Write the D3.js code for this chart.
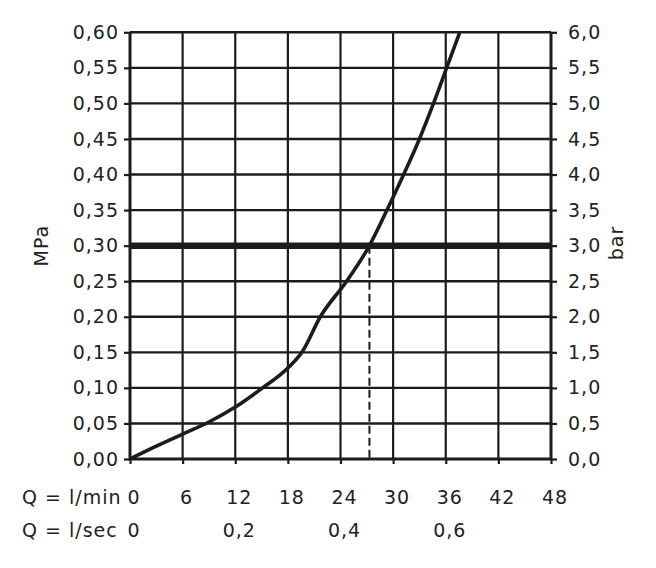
<!DOCTYPE html>
<html>
<head>
<meta charset="utf-8">
<script src="https://cdn.jsdelivr.net/npm/d3@7"></script>
<style>
  body { margin: 0; background: #fff; }
  text { font-family: "DejaVu Sans", sans-serif; fill: #222; letter-spacing: 1px; }
</style>
</head>
<body>
<svg id="chart" width="656" height="568"></svg>
<script>
// flow (l/min) vs pressure (MPa)
var flowLpm = [0, 3, 6, 9, 12, 15, 18, 19.6, 21.7, 24.7, 27.3, 29.3, 31.2, 33.0, 34.6, 36.1, 37.6];
var pressureMPa = [0, 0.018, 0.035, 0.052, 0.073, 0.099, 0.128, 0.15, 0.20, 0.25, 0.30, 0.35, 0.40, 0.45, 0.50, 0.55, 0.60];

var mpaTicks = [0, 0.05, 0.10, 0.15, 0.20, 0.25, 0.30, 0.35, 0.40, 0.45, 0.50, 0.55, 0.60];
var barTicks = [0, 0.5, 1, 1.5, 2, 2.5, 3, 3.5, 4, 4.5, 5, 5.5, 6];
var lpmTicks = [0, 6, 12, 18, 24, 30, 36, 42, 48];
var lpsTicks = [0, 0.2, 0.4, 0.6];

var workingPressure = 0.30;
var workingFlow = 27.3;

(function flowChart() {
    var svg = d3.select("#chart");
    var ink = "#1c1c1c";

    var x = d3.scaleLinear().domain([0, 48]).range([130, 551]);
    var y = d3.scaleLinear().domain([0, 0.6]).range([459, 32.3]);
    var yBar = d3.scaleLinear().domain([0, 6]).range([459, 32.3]);

    var comma = function (fmt) {
        return function (d) { return d3.format(fmt)(d).replace(".", ","); };
    };

    // grid
    var grid = svg.append("g").attr("stroke", ink);
    grid.selectAll(".gx").data(lpmTicks).enter().append("line")
        .attr("x1", function (d) { return x(d); })
        .attr("x2", function (d) { return x(d); })
        .attr("y1", y(0)).attr("y2", y(0.6))
        .attr("stroke-width", function (d) { return (d === 0 || d === 48) ? 3 : 2.2; });
    grid.selectAll(".gy").data(mpaTicks).enter().append("line")
        .attr("x1", x(0)).attr("x2", x(48))
        .attr("y1", function (d) { return y(d); })
        .attr("y2", function (d) { return y(d); })
        .attr("stroke-width", function (d) { return d === 0 ? 3 : 2.4; });

    // axes
    var left = svg.append("g")
        .attr("transform", "translate(" + x(0) + ",0)")
        .call(d3.axisLeft(y).tickValues(mpaTicks).tickSize(6).tickPadding(5).tickFormat(comma(".2f")));
    var right = svg.append("g")
        .attr("transform", "translate(" + x(48) + ",0)")
        .call(d3.axisRight(yBar).tickValues(barTicks).tickSize(6).tickPadding(11).tickFormat(comma(".1f")));
    var bottom = svg.append("g")
        .attr("transform", "translate(0," + y(0) + ")")
        .call(d3.axisBottom(x).tickValues(lpmTicks).tickSize(5).tickFormat(""));

    [left, right, bottom].forEach(function (a) {
        a.select(".domain").remove();
        a.selectAll(".tick line").attr("stroke", ink).attr("stroke-width", 2.2);
        a.selectAll(".tick text").style("font-size", "19px").attr("fill", "#222")
            .style("font-family", "'DejaVu Sans', sans-serif");
    });

    // working pressure line
    svg.append("line")
        .attr("x1", x(0)).attr("x2", x(48))
        .attr("y1", y(workingPressure)).attr("y2", y(workingPressure))
        .attr("stroke", ink).attr("stroke-width", 6.5);

    svg.append("line")
        .attr("x1", x(workingFlow)).attr("x2", x(workingFlow))
        .attr("y1", y(workingPressure)).attr("y2", y(0))
        .attr("stroke", ink).attr("stroke-width", 2)
        .attr("stroke-dasharray", "8,4");

    // curve
    var pts = flowLpm.map(function (q, i) { return [q, pressureMPa[i]]; });
    var line = d3.line()
        .x(function (d) { return x(d[0]); })
        .y(function (d) { return y(d[1]); })
        .curve(d3.curveMonotoneX);
    svg.append("path")
        .datum(pts)
        .attr("d", line)
        .attr("fill", "none")
        .attr("stroke", ink)
        .attr("stroke-width", 3.6);

    // bottom labels
    svg.append("text").attr("x", 22).attr("y", 504).style("font-size", "19px").text("Q = l/min");
    svg.append("text").attr("x", 22).attr("y", 537).style("font-size", "19px").text("Q = l/sec");

    svg.selectAll(".lpm").data(lpmTicks).enter().append("text")
        .attr("x", function (d) { return x(d) + 4; })
        .attr("y", 504)
        .attr("text-anchor", "middle")
        .style("font-size", "19px")
        .text(function (d) { return d; });

    svg.selectAll(".lps").data(lpsTicks).enter().append("text")
        .attr("x", function (d) { return x(d * 60) + 4; })
        .attr("y", 537)
        .attr("text-anchor", "middle")
        .style("font-size", "19px")
        .text(function (d) { return String(d).replace(".", ","); });

    // axis titles
    svg.append("text")
        .attr("transform", "translate(48," + y(workingPressure) + ") rotate(-90)")
        .attr("text-anchor", "middle")
        .style("font-size", "19px")
        .text("MPa");
    svg.append("text")
        .attr("transform", "translate(623,243) rotate(-90)")
        .attr("text-anchor", "middle")
        .style("font-size", "19px")
        .text("bar");
}());
</script>
</body>
</html>
